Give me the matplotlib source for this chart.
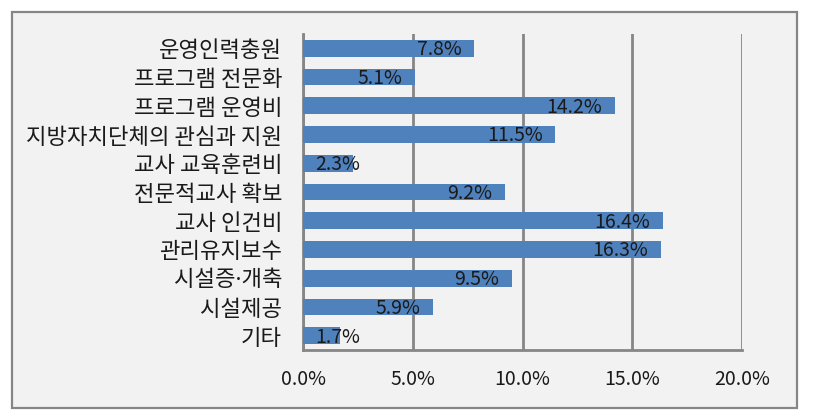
import matplotlib
matplotlib.use("Agg")
import matplotlib.pyplot as plt
from matplotlib.patches import Rectangle

plt.rcParams['font.family'] = ['Noto Sans CJK KR', 'DejaVu Sans']

categories = ["운영인력충원", "프로그램 전문화", "프로그램 운영비", "지방자치단체의 관심과 지원",
              "교사 교육훈련비", "전문적교사 확보", "교사 인건비", "관리유지보수",
              "시설증·개축", "시설제공", "기타"]
values = [7.8, 5.1, 14.2, 11.5, 2.3, 9.2, 16.4, 16.3, 9.5, 5.9, 1.7]
xticks = [0, 5, 10, 15, 20]
xtick_labels = ["0.0%", "5.0%", "10.0%", "15.0%", "20.0%"]

W, H = 814, 418
fig = plt.figure(figsize=(W / 100, H / 100), dpi=100)
fig.patch.set_facecolor("white")
fig.patches.append(Rectangle((12 / W, 1 - 408 / H), (797 - 12) / W, (408 - 12) / H,
                             transform=fig.transFigure, facecolor="#f2f2f2",
                             edgecolor="#868686", linewidth=1.6, zorder=-10))

ax = fig.add_axes([303 / W, 1 - 350 / H, (742 - 303) / W, (350 - 34) / H])
ax.set_facecolor("none")
n = len(categories)
ypos = list(range(n))
ax.barh(ypos, values, height=0.58, color="#4f81bd", zorder=3)
ax.set_ylim(n - 0.5, -0.5)
ax.set_xlim(0, 20)
ax.set_yticks(ypos)
ax.set_yticklabels(categories, fontsize=16, color="#1a1a1a")
for lbl in ax.get_yticklabels():
    if "·" in lbl.get_text():
        lbl.set_family(['Noto Sans', 'Noto Sans CJK KR'])
ax.set_xticks(xticks)
ax.set_xticklabels(xtick_labels, fontsize=14, color="#1a1a1a")
ax.tick_params(axis='both', length=0)
ax.tick_params(axis='y', pad=15)
ax.tick_params(axis='x', pad=14)
ax.grid(axis='x', color="#868686", linewidth=2, zorder=1)
for s in ["top", "right"]:
    ax.spines[s].set_visible(False)
for s in ["left", "bottom"]:
    ax.spines[s].set_color("#868686")
    ax.spines[s].set_linewidth(2)
    ax.spines[s].set_zorder(2)

renderer = fig.canvas.get_renderer()
pad_pts = 9
for y, v in zip(ypos, values):
    t = ax.annotate(f"{v:.1f}%", xy=(v, y), xytext=(-pad_pts, -1), textcoords="offset points",
                    ha="right", va="center", fontsize=14, color="#1a1a1a", zorder=4)
    bb = t.get_window_extent(renderer)
    x0_disp = ax.transData.transform((0, 0))[0]
    if bb.x0 < x0_disp + pad_pts * 100 / 72:
        t.remove()
        ax.annotate(f"{v:.1f}%", xy=(0, y), xytext=(pad_pts, -1), textcoords="offset points",
                    ha="left", va="center", fontsize=14, color="#1a1a1a", zorder=4)

fig.savefig("out.png", dpi=100)
